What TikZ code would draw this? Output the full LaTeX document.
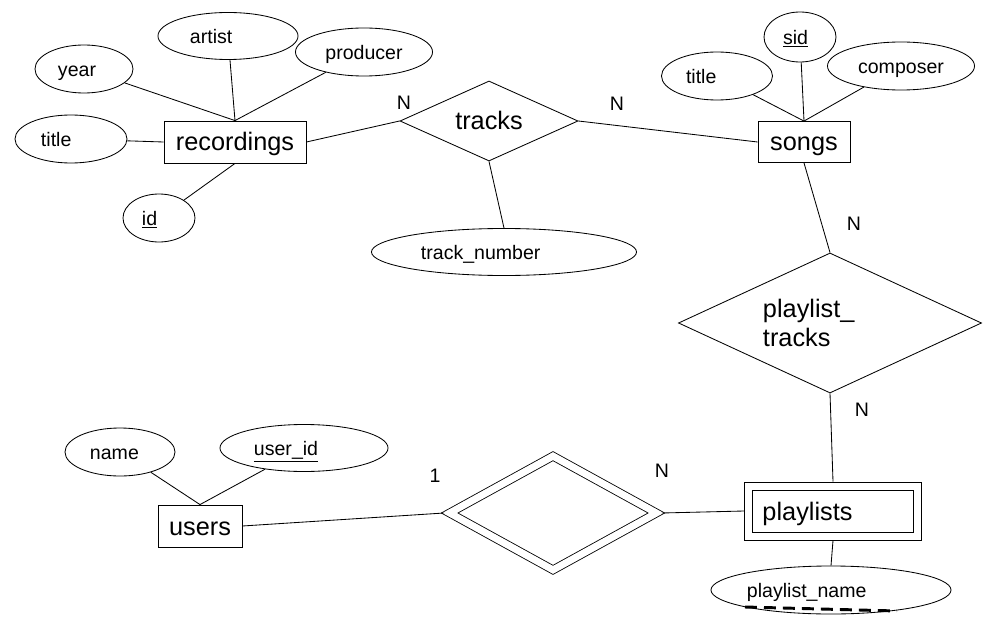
\documentclass[tikz,border=0pt]{standalone}
\usepackage{fontspec}
\setmainfont{Liberation Sans}
\usetikzlibrary{shapes.geometric}
\newcommand{\entfont}{\fontsize{18}{20.6}\selectfont}
\newcommand{\attfont}{\fontsize{13.9}{16}\selectfont}

\begin{document}
\begin{tikzpicture}[x=0.025cm, y=-0.025cm, line width=0.6pt,
    entity/.style = {draw, rectangle, inner sep=0pt, font=\entfont, text height=15pt, text depth=2.2pt},
    attr/.style = {draw, ellipse, inner sep=0pt, minimum height=1.2cm, font=\attfont, text height=11.5pt, text depth=1.5pt},
    lt/.style = {text width=#1, align=left},
    rel/.style = {draw, diamond, inner sep=0pt, font=\entfont},
    card/.style = {font=\attfont}]
  \useasboundingbox (0,0) rectangle (1005,623);
  % entities
  \node[entity, minimum width=3.55cm, minimum height=1.05cm] (rec) at (235,142) {recordings};
  \node[entity, minimum width=2.3cm, minimum height=1.025cm] (songs) at (804,142) {songs};
  \node[entity, minimum width=2.1cm, minimum height=1.05cm] (users) at (200,526) {users};
  \node[entity, minimum width=4.425cm, minimum height=1.45cm] (plouter) at (833,511) {};
  \node[entity, minimum width=4.025cm, minimum height=1.05cm, lt=3.525cm, inner xsep=0.25cm] (playlists) at (833,511) {playlists};
  % relationships
  \node[rel, aspect=2.2, minimum width=4.45cm, minimum height=2cm, text height=15pt, text depth=2.2pt] (tracks) at (489,121) {tracks};
  \node[rel, aspect=2.16, minimum width=7.575cm, minimum height=3.5cm, lt=3.35cm] (pt) at (830,323) {playlist\_\\tracks};
  \node[rel, aspect=1.8, double, double distance=5pt, outer sep=2.8pt, minimum width=5.25cm, minimum height=2.925cm] (own) at (553,513) {};
  % attributes
  \node[attr, minimum width=2.45cm, lt=1.3cm] (year) at (84,69) {year};
  \node[attr, minimum width=3.5cm, minimum height=1.175cm, lt=1.9cm] (artist) at (228,36) {artist};
  \node[attr, minimum width=3.425cm] (producer) at (364,52) {producer};
  \node[attr, minimum width=2.8cm, lt=1.5cm] (rtitle) at (71,139) {title};
  \node[attr, minimum width=1.8cm, lt=0.85cm] (id) at (159,218) {\underline{id}};
  \node[attr, minimum width=6.625cm, minimum height=1.175cm, lt=4.15cm] (tnum) at (504,252) {track\_number};
  \node[attr, minimum width=2.775cm, lt=1.55cm] (stitle) at (717,76) {title};
  \node[attr, minimum width=1.8cm, minimum height=1.25cm, lt=0.85cm] (sid) at (800,37) {\underline{sid}};
  \node[attr, minimum width=3.675cm] (composer) at (901,66) {composer};
  \node[attr, minimum width=6cm, lt=4.2cm] (plname) at (831,590) {playlist\_name};
  \node[attr, minimum width=2.75cm, lt=1.5cm] (uname) at (120,452) {name};
  \node[attr, minimum width=4.2cm, minimum height=1.175cm, lt=2.5cm] (userid) at (304,448) {\underline{user\_id}};
  % cardinalities
  \node[card] (n1) at (404,103) {N};
  \node[card] (n2) at (617,104) {N};
  \node[card] (n3) at (854,224) {N};
  \node[card] (n4) at (862,410) {N};
  \node[card] (one) at (435,476) {1};
  \node[card] (n5) at (662,471) {N};
  %
  \draw (year) -- (rec.north);
  \draw (artist) -- (rec.north);
  \draw (producer) -- (rec.north);
  \draw (rtitle) -- (rec.west);
  \draw (id) -- (rec.south);
  \draw (rec.east) -- (tracks.west);
  \draw (tracks.east) -- (songs.west);
  \draw (tracks.south) -- (tnum.north);
  \draw (stitle) -- (songs.north);
  \draw (sid) -- (songs.north);
  \draw (composer) -- (songs.north);
  \draw (songs.south) -- (pt.north);
  \draw (pt.south) -- (plouter.north);
  \draw (plouter.south) -- (plname.north);
  \draw (plouter.west) -- (own.east);
  \draw (users.east) -- (own.west);
  \draw (uname) -- (users.north);
  \draw (userid) -- (users.north);
  \draw[line width=2.1pt, dash pattern=on 8.5pt off 5pt] (745,607) -- (897,611);
\end{tikzpicture}
\end{document}
